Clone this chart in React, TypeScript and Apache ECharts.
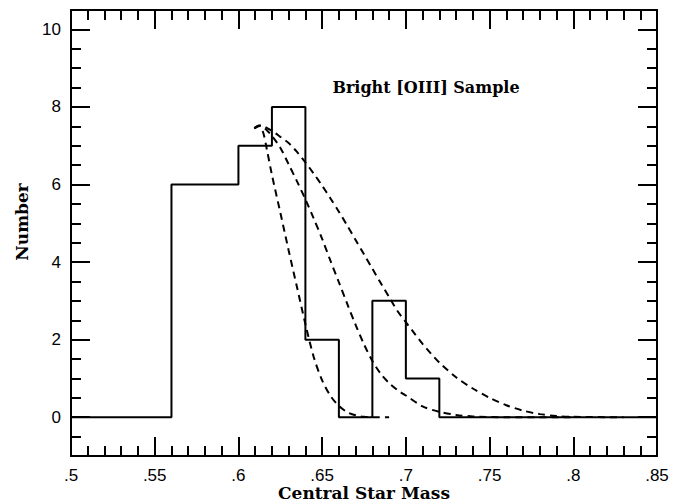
import React, { useEffect, useRef } from "react";
import * as echarts from "echarts";

// Histogram: bin edges and counts
const binEdges = [0.5, 0.56, 0.6, 0.62, 0.64, 0.66, 0.68, 0.7, 0.72, 0.85];
const binCounts = [0, 6, 7, 8, 2, 0, 3, 1, 0];

// Dashed model curves
const narrowX = [0.6095, 0.612, 0.6145, 0.617, 0.62, 0.625, 0.63, 0.635, 0.64, 0.645, 0.65, 0.655, 0.66, 0.665, 0.67, 0.675, 0.68, 0.69];
const narrowY = [7.45, 7.52, 7.38, 6.9, 6.25, 5.28, 4.3, 3.35, 2.4, 1.55, 0.95, 0.55, 0.29, 0.13, 0.05, 0.01, 0.0, 0.0];

const middleX = [0.6095, 0.613, 0.6165, 0.62, 0.625, 0.63, 0.635, 0.64, 0.645, 0.65, 0.655, 0.66, 0.665, 0.67, 0.675, 0.68, 0.685, 0.69, 0.695, 0.7, 0.71, 0.72, 0.73, 0.74, 0.76, 0.8];
const middleY = [7.45, 7.52, 7.42, 7.25, 6.95, 6.52, 6.08, 5.62, 5.12, 4.6, 4.03, 3.48, 2.92, 2.38, 1.88, 1.45, 1.12, 0.88, 0.7, 0.56, 0.28, 0.14, 0.06, 0.02, 0.0, 0.0];

const wideX = [0.6095, 0.6135, 0.62, 0.625, 0.63, 0.635, 0.64, 0.645, 0.65, 0.655, 0.66, 0.665, 0.67, 0.675, 0.68, 0.685, 0.69, 0.695, 0.7, 0.705, 0.71, 0.715, 0.72, 0.73, 0.74, 0.75, 0.76, 0.77, 0.78, 0.79, 0.8, 0.83];
const wideY = [7.45, 7.52, 7.38, 7.23, 7.07, 6.84, 6.57, 6.28, 5.97, 5.64, 5.3, 4.94, 4.57, 4.2, 3.83, 3.46, 3.1, 2.74, 2.45, 2.17, 1.89, 1.64, 1.41, 1.03, 0.74, 0.5, 0.31, 0.17, 0.08, 0.03, 0.01, 0.0];

const yMajorTicks = [0, 2, 4, 6, 8, 10];
const xTitle = "Central Star Mass";
const yTitle = "Number";
const sampleLabel = "Bright [OIII] Sample";

const BLACK = "#000";
const SERIF = '"DejaVu Serif", "Liberation Serif", serif';
const SANS = '"Liberation Sans", Arial, Helvetica, sans-serif';

function zipXY(xs: number[], ys: number[]) {
  return xs.map((x, i) => [x, ys[i]]);
}

export default function App() {
  const ref = useRef<HTMLDivElement>(null);

  useEffect(() => {
    document.body.style.margin = "0";
    if (!ref.current) return;
    const chart = echarts.init(ref.current, undefined, { renderer: "svg" });

    const histData = binEdges.map((e, i) => [e, i < binCounts.length ? binCounts[i] : 0]);

    const lineStyleAxis = { color: BLACK, width: 2 };

    const xBase = {
      type: "value" as const,
      min: 0.5,
      max: 0.85,
      interval: 0.05,
      splitLine: { show: false },
      minorSplitLine: { show: false },
      axisLine: { show: true, onZero: false, lineStyle: lineStyleAxis },
      axisTick: { show: true, inside: true, length: 19, lineStyle: { color: BLACK, width: 2 } },
      minorTick: { show: true, splitNumber: 5, length: 10, lineStyle: { color: BLACK, width: 2 } },
    };

    const yMajorBase = {
      type: "value" as const,
      min: -1,
      max: 10.5,
      splitLine: { show: false },
      axisLine: { show: true, onZero: false, lineStyle: lineStyleAxis },
      axisTick: {
        show: true,
        inside: true,
        length: 19,
        customValues: yMajorTicks,
        lineStyle: { color: BLACK, width: 2 },
      },
    };

    const yMinorBase = {
      type: "value" as const,
      min: -1,
      max: 10.5,
      interval: 0.5,
      splitLine: { show: false },
      axisLine: { show: false, onZero: false },
      axisLabel: { show: false },
      axisTick: { show: true, inside: true, length: 10, lineStyle: { color: BLACK, width: 2 } },
    };

    const curveStyle = { color: BLACK, width: 2, type: [7, 5] as number[] };

    const curve = (xs: number[], ys: number[]) => ({
      type: "line",
      xAxisIndex: 0,
      yAxisIndex: 0,
      symbol: "none",
      smooth: 0.3,
      data: zipXY(xs, ys),
      lineStyle: curveStyle,
    });

    chart.setOption({
      animation: false,
      backgroundColor: "#fff",
      grid: { left: 71, right: 25, top: 10, bottom: 48, containLabel: false, outerBoundsMode: "none" },
      xAxis: [
        {
          ...xBase,
          position: "bottom",
          axisLabel: {
            show: true,
            color: BLACK,
            fontSize: 17,
            lineHeight: 14,
            fontFamily: SANS,
            margin: 12,
            formatter: (v: number) => String(Math.round(v * 100) / 100).replace(/^0\./, "."),
          },
          name: xTitle,
          nameLocation: "middle",
          nameGap: 28,
          nameMoveOverlap: false,
          nameTextStyle: { color: BLACK, fontSize: 17, fontWeight: "bold", fontFamily: SERIF, lineHeight: 18 },
        },
        {
          ...xBase,
          position: "top",
          axisLabel: { show: false },
        },
      ],
      yAxis: [
        {
          ...yMajorBase,
          position: "left",
          axisLabel: {
            show: true,
            customValues: yMajorTicks,
            color: BLACK,
            fontSize: 17,
            fontFamily: SANS,
            margin: 10,
          },
          name: yTitle,
          nameLocation: "middle",
          nameGap: 41,
          nameMoveOverlap: false,
          nameTextStyle: {
            color: BLACK,
            fontSize: 17,
            fontWeight: "bold",
            fontFamily: SERIF,
            padding: [0, 0, 0, 22],
          },
        },
        { ...yMinorBase, position: "left" },
        { ...yMajorBase, position: "right", axisLabel: { show: false } },
        { ...yMinorBase, position: "right" },
      ],
      graphic: [
        {
          type: "text",
          x: 426,
          y: 87,
          style: {
            text: sampleLabel,
            fill: BLACK,
            font: `bold 16px ${SERIF}`,
            align: "center",
            verticalAlign: "middle",
          },
        },
      ],
      series: [
        {
          type: "line",
          xAxisIndex: 0,
          yAxisIndex: 0,
          step: "end",
          symbol: "none",
          data: histData,
          lineStyle: { color: BLACK, width: 2 },
        },
        curve(narrowX, narrowY),
        curve(middleX, middleY),
        curve(wideX, wideY),
      ],
    });

    return () => chart.dispose();
  }, []);

  return <div ref={ref} style={{ width: 682, height: 504 }} />;
}
